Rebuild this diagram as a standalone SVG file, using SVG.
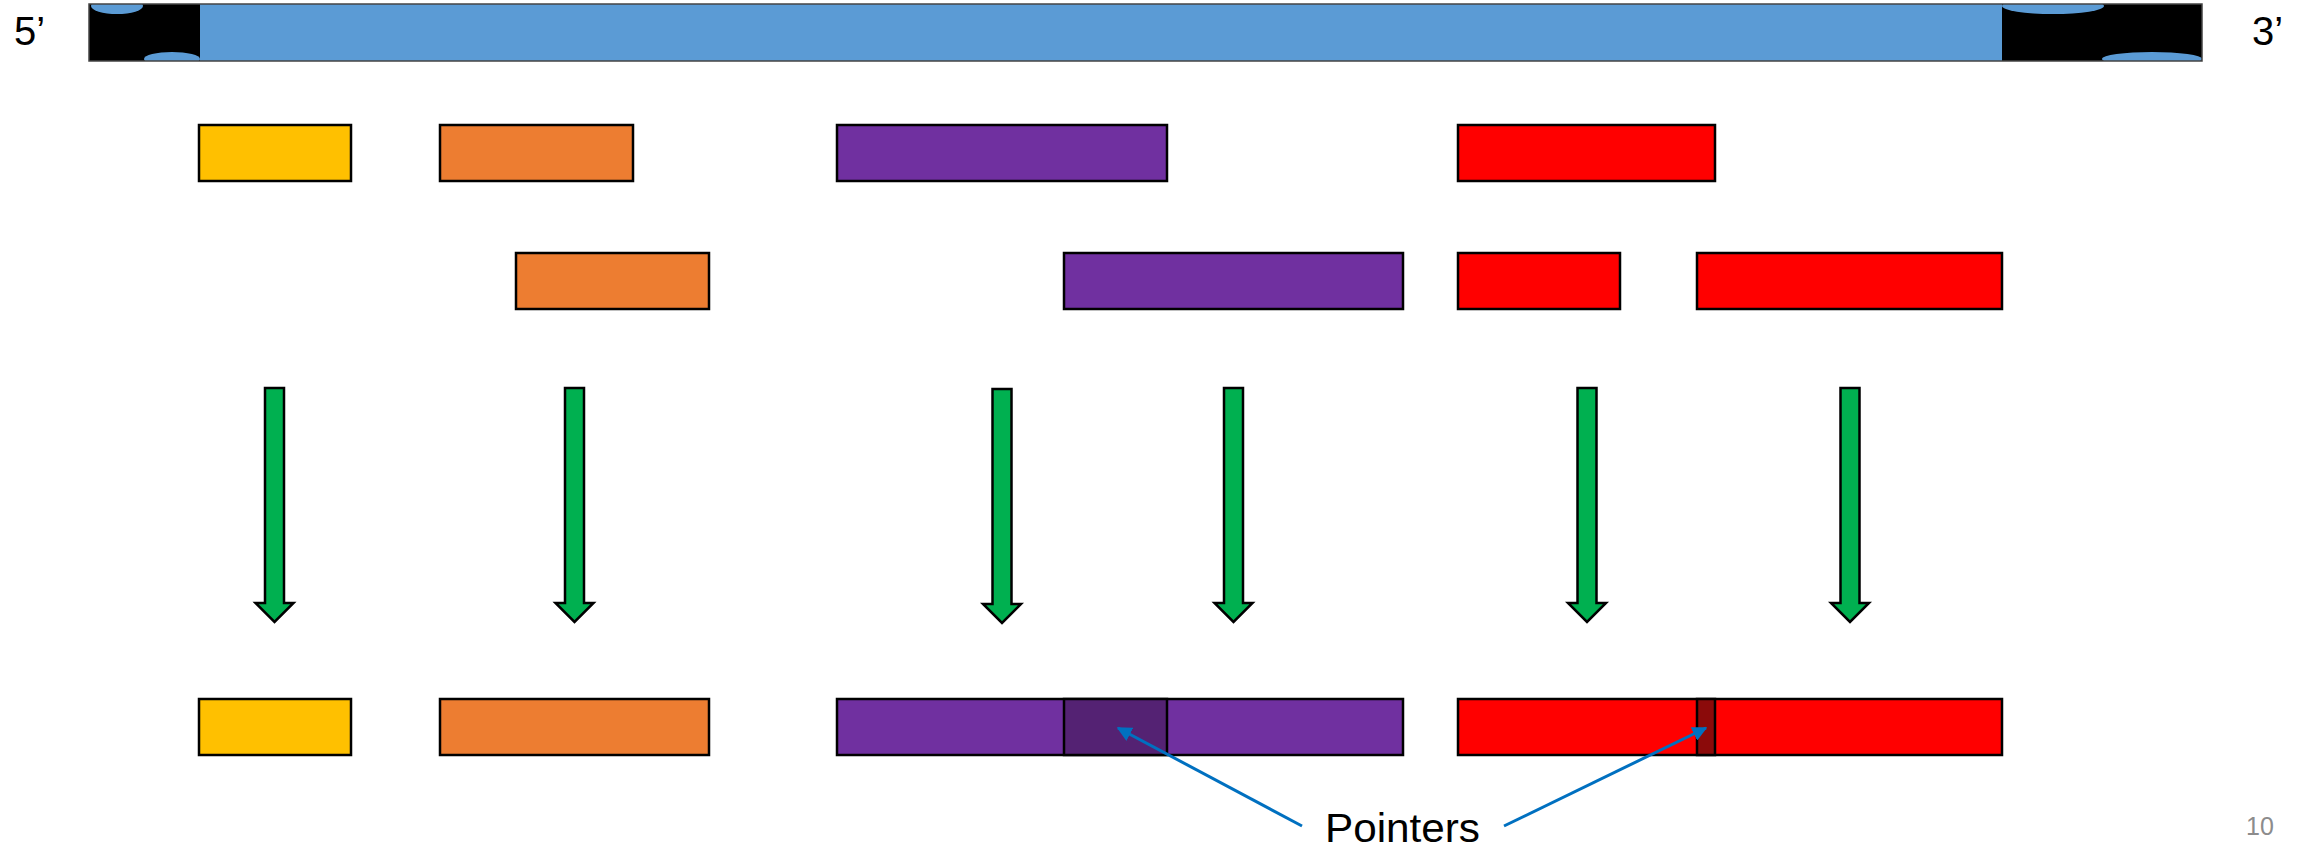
<svg xmlns="http://www.w3.org/2000/svg" width="2313" height="847" viewBox="0 0 2313 847">
<style>
.lbl{font-family:"Liberation Sans",Arial,sans-serif;fill:#000}
.seg{stroke:#000;stroke-width:2.5}
.y{fill:#FFC000}.o{fill:#ED7D31}.p{fill:#7030A0}.r{fill:#FF0000}
.pd{fill:#542273}.rd{fill:#8B0A0A}
.g{fill:#00B050;stroke:#000;stroke-width:2.5;stroke-linejoin:miter}
.ptr{stroke:#0070C0;stroke-width:3;fill:none}
</style>
<defs>
<clipPath id="barclip"><rect x="89" y="4" width="2113" height="57"/></clipPath>
<marker id="ah" viewBox="0 0 10 10" refX="9" refY="5" markerWidth="5" markerHeight="5" orient="auto" markerUnits="strokeWidth">
<path d="M0,0 L10,5 L0,10 Z" fill="#0070C0"/>
</marker>
</defs>
<rect width="2313" height="847" fill="#fff"/>
<g id="dna">
<rect x="89" y="4" width="2113" height="57" fill="#5B9BD5"/>
<g clip-path="url(#barclip)">
<rect x="89" y="4" width="111" height="57" fill="#000"/>
<ellipse cx="117" cy="6" rx="26" ry="8" fill="#5B9BD5"/>
<ellipse cx="172" cy="59" rx="28" ry="7" fill="#5B9BD5"/>
<rect x="2002" y="4" width="200" height="57" fill="#000"/>
<ellipse cx="2053" cy="6" rx="51" ry="8" fill="#5B9BD5"/>
<ellipse cx="2152" cy="59" rx="50" ry="7" fill="#5B9BD5"/>
</g>
<rect x="89" y="4" width="2113" height="57" fill="none" stroke="#444" stroke-width="1.5"/>
</g>
<g id="label5"><text class="lbl" x="14" y="45" font-size="40">5’</text></g>
<g id="label3"><text class="lbl" x="2252" y="45" font-size="40">3’</text></g>
<g id="row1">
<rect id="r1-yellow" class="seg y" x="199" y="125" width="152" height="56"/>
<rect id="r1-orange" class="seg o" x="440" y="125" width="193" height="56"/>
<rect id="r1-purple" class="seg p" x="837" y="125" width="330" height="56"/>
<rect id="r1-red" class="seg r" x="1458" y="125" width="257" height="56"/>
</g>
<g id="row2">
<rect id="r2-orange" class="seg o" x="516" y="253" width="193" height="56"/>
<rect id="r2-purple" class="seg p" x="1064" y="253" width="339" height="56"/>
<rect id="r2-red1" class="seg r" x="1458" y="253" width="162" height="56"/>
<rect id="r2-red2" class="seg r" x="1697" y="253" width="305" height="56"/>
</g>
<g id="arrows">
<path class="g" d="M265,388 H284 V603 H293.5 L274.5,622 L255.5,603 H265 Z"/>
<path class="g" d="M565,388 H584 V603 H593.5 L574.5,622 L555.5,603 H565 Z"/>
<path class="g" d="M992.5,389 H1011.5 V604 H1021 L1002,623 L983,604 H992.5 Z"/>
<path class="g" d="M1224,388 H1243 V603 H1252.5 L1233.5,622 L1214.5,603 H1224 Z"/>
<path class="g" d="M1577.5,388 H1596.5 V603 H1606 L1587,622 L1568,603 H1577.5 Z"/>
<path class="g" d="M1840.5,388 H1859.5 V603 H1869 L1850,622 L1831,603 H1840.5 Z"/>
</g>
<g id="row3">
<rect id="r3-yellow" class="seg y" x="199" y="699" width="152" height="56"/>
<rect id="r3-orange" class="seg o" x="440" y="699" width="269" height="56"/>
<rect id="r3-purple" class="seg p" x="837" y="699" width="566" height="56"/>
<rect id="r3-purple-ptr" class="seg pd" x="1064" y="699" width="103" height="56"/>
<rect id="r3-red" class="seg r" x="1458" y="699" width="544" height="56"/>
<rect id="r3-red-ptr" class="seg rd" x="1697" y="699" width="18" height="56"/>
</g>
<g id="connectors">
<line class="ptr" x1="1302" y1="826" x2="1118" y2="728" marker-end="url(#ah)"/>
<line class="ptr" x1="1504" y1="826" x2="1706" y2="728" marker-end="url(#ah)"/>
</g>
<g id="pointers-label"><text class="lbl" x="1325" y="842" font-size="40" textLength="155" lengthAdjust="spacingAndGlyphs">Pointers</text></g>
<g id="page"><text x="2246" y="835" font-size="25" fill="#8C8C8C" font-family="Liberation Sans,Arial,sans-serif">10</text></g>
</svg>
